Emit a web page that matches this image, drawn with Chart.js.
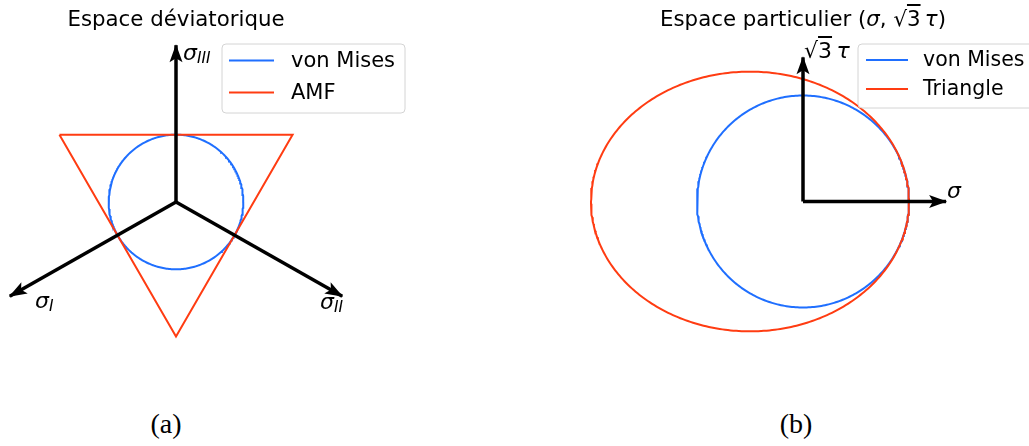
<!DOCTYPE html>
<html><head><meta charset="utf-8">
<script src="https://cdn.jsdelivr.net/npm/chart.js@4.4.1/dist/chart.umd.min.js"></script>
<style>
html,body{margin:0;padding:0;background:#fff;width:1029px;height:446px;overflow:hidden;position:relative;}
canvas{position:absolute;top:0;}
.lab{position:absolute;font-family:"DejaVu Sans";line-height:1;white-space:nowrap;color:#000;}
.lab i{font-style:italic;}
.lab sub{font-size:0.7em;vertical-align:-0.18em;line-height:0;}
.ov{text-decoration:overline;text-decoration-thickness:1.5px;}
.cap{position:absolute;font-family:"Liberation Serif";line-height:1;font-size:28px;width:100px;text-align:center;}
</style></head><body>
<canvas id="cL" width="420" height="400" style="left:0px"></canvas>
<canvas id="cR" width="469" height="400" style="left:560px"></canvas>

<div class="lab" style="left:-24px;top:8px;width:400px;text-align:center;font-size:21.3px;">Espace déviatorique</div>
<div class="lab" style="left:503px;top:8px;width:600px;text-align:center;font-size:21.3px;">Espace particulier (<i>σ</i>, √<span class="ov">3</span>&#8201;<i>τ</i>)</div>

<div class="lab" style="left:183px;top:42px;font-size:22px;"><i>σ</i><sub><i>III</i></sub></div>
<div class="lab" style="left:35px;top:290px;font-size:22px;"><i>σ</i><sub><i>I</i></sub></div>
<div class="lab" style="left:320px;top:291px;font-size:22px;"><i>σ</i><sub><i>II</i></sub></div>
<div class="lab" style="left:804px;top:40px;font-size:22px;">√<span class="ov">3</span>&#8201;<i>τ</i></div>
<div class="lab" style="left:947px;top:180px;font-size:22px;"><i>σ</i></div>

<div class="cap" style="left:116px;top:410px;">(a)</div>
<div class="cap" style="left:746px;top:410px;">(b)</div>

<script>
// ---------- data ----------
const seriesLabelsL = ['von Mises', 'AMF'];
const seriesLabelsR = ['von Mises', 'Triangle'];

// left: deviatoric plane
const vonMisesCenterL = [0, 0];
const vonMisesRadiusL = [1];
const amfVertices = [[-1.732, 1], [1.732, 1], [0, -2], [-1.732, 1]];
const devAxisOrigin = [0, 0];
const sigmaIIIEnd = [0, 2.33];
const sigmaIEnd = [-2.47, -1.40];
const sigmaIIEnd = [2.47, -1.40];

// right: (sigma, sqrt(3) tau) plane
const vonMisesCenterR = [0, 0];
const vonMisesRadiusR = [1];
const triangleEllipseCenter = [-0.5, 0];
const triangleEllipseSemiAxes = [1.5, 1.225];
const partAxisOrigin = [0, 0];
const sigmaEnd = [1.35, 0];
const tauEnd = [0, 1.36];

// ---------- helpers ----------
function ellipsePoints(c, a, b, n) {
  const pts = [];
  for (let k = 0; k <= n; k++) {
    const t = 2 * Math.PI * k / n;
    pts.push({x: c[0] + a * Math.cos(t), y: c[1] + b * Math.sin(t)});
  }
  return pts;
}
const toPts = arr => arr.map(p => ({x: p[0], y: p[1]}));

const BLUE = '#1f6fff', RED = '#ff3c12';

const arrowPlugin = {
  id: 'arrowHeads',
  afterDatasetsDraw(chart) {
    const ctx = chart.ctx;
    chart.data.datasets.forEach((ds, i) => {
      if (!ds.arrow) return;
      const pts = chart.getDatasetMeta(i).data;
      const a = pts[pts.length - 2], b = pts[pts.length - 1];
      const ang = Math.atan2(b.y - a.y, b.x - a.x);
      const L = 17, H = 6.5, N = 13;
      ctx.save();
      ctx.translate(b.x, b.y); ctx.rotate(ang);
      ctx.beginPath();
      ctx.moveTo(1, 0); ctx.lineTo(-L, -H); ctx.lineTo(-N, 0); ctx.lineTo(-L, H); ctx.closePath();
      ctx.fillStyle = ds.borderColor; ctx.fill();
      ctx.restore();
    });
  }
};

const boxLegendPlugin = {
  id: 'boxLegend',
  afterDraw(chart, args, o) {
    const ctx = chart.ctx;
    const items = chart.data.datasets.filter(d => d.inLegend);
    ctx.save();
    const r = 4;
    ctx.beginPath();
    ctx.moveTo(o.x + r, o.y); ctx.lineTo(o.x + o.w - r, o.y); ctx.arcTo(o.x + o.w, o.y, o.x + o.w, o.y + r, r);
    ctx.lineTo(o.x + o.w, o.y + o.h - r); ctx.arcTo(o.x + o.w, o.y + o.h, o.x + o.w - r, o.y + o.h, r);
    ctx.lineTo(o.x + r, o.y + o.h); ctx.arcTo(o.x, o.y + o.h, o.x, o.y + o.h - r, r);
    ctx.lineTo(o.x, o.y + r); ctx.arcTo(o.x, o.y, o.x + r, o.y, r); ctx.closePath();
    ctx.fillStyle = 'rgba(255,255,255,0.8)'; ctx.fill();
    ctx.strokeStyle = '#d4d4d4'; ctx.lineWidth = 1; ctx.stroke();
    items.forEach((d, k) => {
      const y = o.rows[k];
      ctx.beginPath(); ctx.moveTo(o.lx1, y); ctx.lineTo(o.lx2, y);
      ctx.strokeStyle = d.borderColor; ctx.lineWidth = 2; ctx.stroke();
      ctx.fillStyle = '#000'; ctx.font = o.font; ctx.textBaseline = 'middle'; ctx.textAlign = 'left';
      ctx.fillText(d.label, o.tx, y + 1);
    });
    ctx.restore();
  }
};

function makeChart(id, w, h, origin, ppu, datasets, legend) {
  const xmin = -origin[0] / ppu, xmax = (w - origin[0]) / ppu;
  const ymax = origin[1] / ppu, ymin = -(h - origin[1]) / ppu;
  return new Chart(document.getElementById(id), {
    type: 'scatter',
    data: {datasets},
    options: {
      responsive: false, animation: false, events: [],
      layout: {padding: 0},
      scales: {
        x: {type: 'linear', min: xmin, max: xmax, display: false},
        y: {type: 'linear', min: ymin, max: ymax, display: false}
      },
      plugins: {legend: {display: false}, tooltip: {enabled: false}, title: {display: false}, boxLegend: legend},
      elements: {point: {radius: 0}}
    },
    plugins: [arrowPlugin, boxLegendPlugin]
  });
}

function curve(label, color, pts, order) {
  return {label, inLegend: true, data: pts, showLine: true, borderColor: color, backgroundColor: color,
          borderWidth: 2, pointRadius: 0, tension: 0, fill: false, order, borderJoinStyle: 'miter'};
}
function arrow(o, e) {
  return {label: '', data: toPts([o, e]), showLine: true, borderColor: '#000', backgroundColor: '#000',
          borderWidth: 3.5, pointRadius: 0, arrow: true, order: 0, borderCapStyle: 'butt', borderJoinStyle: 'miter'};
}

// left chart
makeChart('cL', 420, 400, [176, 202], 67.3, [
  curve(seriesLabelsL[0], BLUE, ellipsePoints(vonMisesCenterL, vonMisesRadiusL[0], vonMisesRadiusL[0], 360), 2),
  curve(seriesLabelsL[1], RED, toPts(amfVertices), 1),
  arrow(devAxisOrigin, sigmaIIIEnd),
  arrow(devAxisOrigin, sigmaIEnd),
  arrow(devAxisOrigin, sigmaIIEnd)
], {x: 222, y: 44, w: 183, h: 69, lx1: 229, lx2: 274, tx: 291, rows: [60.5, 92.5], font: '21px "DejaVu Sans"'});

// right chart
makeChart('cR', 469, 400, [243, 201.5], 106, [
  curve(seriesLabelsR[0], BLUE, ellipsePoints(vonMisesCenterR, vonMisesRadiusR[0], vonMisesRadiusR[0], 360), 2),
  curve(seriesLabelsR[1], RED, ellipsePoints(triangleEllipseCenter, triangleEllipseSemiAxes[0], triangleEllipseSemiAxes[1], 360), 1),
  arrow(partAxisOrigin, sigmaEnd),
  arrow(partAxisOrigin, tauEnd)
], {x: 298, y: 44, w: 180, h: 64, lx1: 306, lx2: 348, tx: 363, rows: [60, 89], font: '20.5px "DejaVu Sans"'});
</script>
</body></html>
